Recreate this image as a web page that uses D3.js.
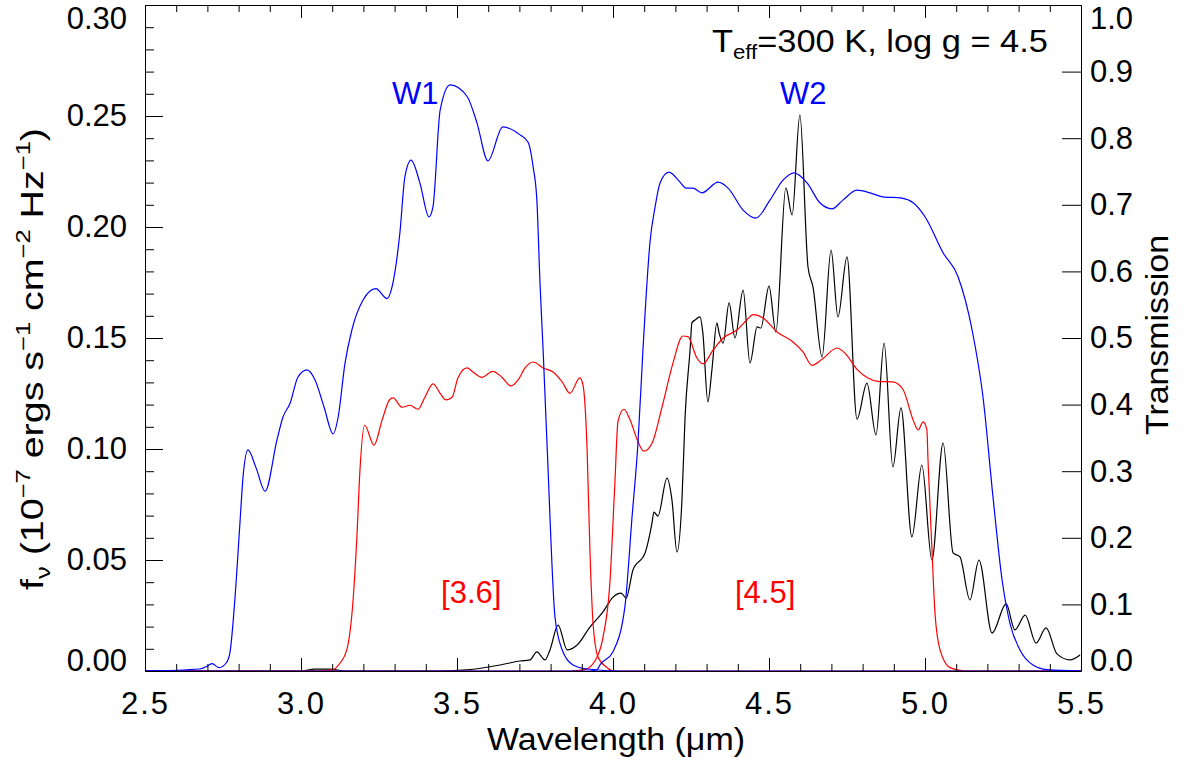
<!DOCTYPE html>
<html>
<head>
<meta charset="utf-8">
<script src="https://cdn.jsdelivr.net/npm/d3@7"></script>
<style>
  html, body { margin: 0; padding: 0; background: #fff; }
  svg { display: block; }
  text { font-family: "Liberation Sans", Arial, Helvetica, sans-serif; }
</style>
</head>
<body>
<svg id="chart" width="1184" height="765"></svg>
<script>
// ---------------- DATA ----------------
// WISE W1 transmission (right axis)
const w1Wave  = [2.50, 2.676, 2.702, 2.715, 2.737, 2.760, 2.772, 2.788, 2.804, 2.814, 2.830, 2.856, 2.885, 2.923, 2.942, 2.965, 2.990, 3.019, 3.045, 3.074, 3.103, 3.119, 3.141, 3.163, 3.199, 3.240, 3.276, 3.292, 3.317, 3.333, 3.353, 3.381, 3.410, 3.423, 3.446, 3.478, 3.532, 3.564, 3.599, 3.647, 3.702, 3.728, 3.744, 3.756, 3.766, 3.776, 3.792, 3.798, 3.814, 3.837, 3.872, 3.917, 4.022, 5.50];
const w1Trans = [0.000, 0.003, 0.008, 0.011, 0.005, 0.012, 0.027, 0.107, 0.220, 0.290, 0.332, 0.305, 0.270, 0.347, 0.381, 0.402, 0.441, 0.452, 0.437, 0.396, 0.356, 0.381, 0.462, 0.512, 0.557, 0.574, 0.559, 0.577, 0.658, 0.742, 0.767, 0.733, 0.682, 0.697, 0.842, 0.880, 0.863, 0.823, 0.766, 0.817, 0.805, 0.794, 0.757, 0.707, 0.583, 0.482, 0.302, 0.231, 0.081, 0.032, 0.009, 0.003, 0.000, 0.000];

// WISE W2 transmission (right axis)
const w2Wave  = [2.50, 3.926, 3.949, 3.958, 4.000, 4.038, 4.061, 4.080, 4.096, 4.119, 4.135, 4.151, 4.179, 4.215, 4.234, 4.256, 4.285, 4.337, 4.369, 4.417, 4.458, 4.503, 4.545, 4.580, 4.622, 4.663, 4.702, 4.737, 4.782, 4.824, 4.865, 4.926, 4.962, 5.000, 5.058, 5.106, 5.151, 5.186, 5.218, 5.247, 5.272, 5.304, 5.346, 5.391, 5.50];
const w2Trans = [0.000, 0.000, 0.002, 0.009, 0.029, 0.096, 0.231, 0.342, 0.482, 0.646, 0.697, 0.733, 0.749, 0.734, 0.725, 0.725, 0.718, 0.734, 0.725, 0.692, 0.680, 0.707, 0.737, 0.748, 0.733, 0.703, 0.694, 0.707, 0.722, 0.718, 0.712, 0.710, 0.703, 0.682, 0.628, 0.592, 0.512, 0.411, 0.261, 0.137, 0.072, 0.032, 0.009, 0.002, 0.000];

// IRAC [3.6] transmission (right axis)
const i1Wave  = [2.50, 3.061, 3.103, 3.125, 3.147, 3.167, 3.179, 3.189, 3.204, 3.234, 3.260, 3.285, 3.295, 3.324, 3.349, 3.375, 3.397, 3.423, 3.446, 3.465, 3.484, 3.503, 3.532, 3.551, 3.580, 3.615, 3.644, 3.673, 3.696, 3.718, 3.744, 3.776, 3.808, 3.837, 3.862, 3.894, 3.904, 3.917, 3.926, 3.936, 3.952, 3.981, 4.006, 5.50];
const i1Trans = [0.000, 0.000, 0.002, 0.012, 0.032, 0.107, 0.200, 0.302, 0.369, 0.339, 0.377, 0.408, 0.410, 0.396, 0.399, 0.393, 0.411, 0.431, 0.417, 0.407, 0.411, 0.440, 0.455, 0.449, 0.441, 0.450, 0.441, 0.428, 0.437, 0.455, 0.464, 0.455, 0.449, 0.434, 0.417, 0.440, 0.429, 0.332, 0.182, 0.072, 0.021, 0.005, 0.000, 0.000];

// IRAC [4.5] transmission (right axis)
const i2Wave  = [2.50, 3.862, 3.910, 3.949, 3.968, 3.990, 4.006, 4.016, 4.035, 4.054, 4.077, 4.099, 4.125, 4.157, 4.192, 4.224, 4.240, 4.269, 4.288, 4.321, 4.353, 4.397, 4.429, 4.449, 4.481, 4.526, 4.577, 4.609, 4.638, 4.670, 4.718, 4.744, 4.782, 4.817, 4.849, 4.897, 4.929, 4.962, 4.978, 4.994, 5.006, 5.010, 5.022, 5.032, 5.048, 5.080, 5.128, 5.50];
const i2Trans = [0.000, 0.000, 0.002, 0.021, 0.051, 0.132, 0.282, 0.375, 0.393, 0.378, 0.348, 0.330, 0.342, 0.396, 0.462, 0.503, 0.502, 0.470, 0.461, 0.482, 0.500, 0.512, 0.527, 0.535, 0.530, 0.509, 0.494, 0.479, 0.459, 0.468, 0.485, 0.477, 0.453, 0.440, 0.435, 0.434, 0.423, 0.377, 0.362, 0.374, 0.362, 0.312, 0.186, 0.087, 0.032, 0.005, 0.000, 0.000];

// Model spectrum f_nu (left axis, 1e-7 ergs s^-1 cm^-2 Hz^-1)
const specWave = [2.50, 2.997, 3.045, 3.093, 3.141, 3.446, 3.532, 3.638, 3.702, 3.734, 3.756, 3.782, 3.798, 3.824, 3.853, 3.885, 3.926, 3.968, 4.000, 4.026, 4.042, 4.064, 4.103, 4.125, 4.131, 4.144, 4.173, 4.189, 4.205, 4.221, 4.231, 4.247, 4.253, 4.263, 4.279, 4.288, 4.304, 4.317, 4.333, 4.340, 4.353, 4.372, 4.391, 4.417, 4.439, 4.462, 4.474, 4.500, 4.522, 4.554, 4.574, 4.599, 4.625, 4.641, 4.670, 4.699, 4.721, 4.750, 4.782, 4.814, 4.843, 4.869, 4.897, 4.923, 4.958, 4.990, 5.022, 5.058, 5.090, 5.112, 5.144, 5.173, 5.215, 5.260, 5.288, 5.321, 5.356, 5.388, 5.423, 5.465, 5.497];
const specFlux = [0.0000, 0.0000, 0.0008, 0.0008, 0.0000, 0.0000, 0.0005, 0.0027, 0.0045, 0.0050, 0.0086, 0.0050, 0.0095, 0.0207, 0.0095, 0.0117, 0.0198, 0.0266, 0.0333, 0.0351, 0.0329, 0.0455, 0.0532, 0.0667, 0.0716, 0.0698, 0.0869, 0.0770, 0.0536, 0.0770, 0.1144, 0.1446, 0.1568, 0.1581, 0.1595, 0.1523, 0.1212, 0.1356, 0.1568, 0.1523, 0.1477, 0.1658, 0.1500, 0.1716, 0.1387, 0.1550, 0.1545, 0.1734, 0.1527, 0.2176, 0.2054, 0.2505, 0.1820, 0.1730, 0.1414, 0.1896, 0.1595, 0.1865, 0.1135, 0.1297, 0.1063, 0.1477, 0.0919, 0.1185, 0.0604, 0.0928, 0.0500, 0.1027, 0.0532, 0.0514, 0.0320, 0.0500, 0.0171, 0.0302, 0.0185, 0.0252, 0.0126, 0.0194, 0.0077, 0.0050, 0.0072];

// Axis ticks
const xMajor = [2.5, 3.0, 3.5, 4.0, 4.5, 5.0, 5.5];
const xMinor = d3.range(2.6, 5.45, 0.1).map(v => +v.toFixed(2)).filter(v => !xMajor.includes(v));
const yLeftMajor = [0.00, 0.05, 0.10, 0.15, 0.20, 0.25, 0.30];
const yLeftMinor = d3.range(0.01, 0.295, 0.01).map(v => +v.toFixed(2)).filter(v => Math.abs(v * 20 - Math.round(v * 20)) > 1e-6);
const yRightMajor = [0.0, 0.1, 0.2, 0.3, 0.4, 0.5, 0.6, 0.7, 0.8, 0.9, 1.0];

// Labels
const bandLabels = [
  { text: "W1",    wave: 3.292, trans: 0.851, color: "#0000ff" },
  { text: "W2",    wave: 4.535, trans: 0.851, color: "#0000ff" },
  { text: "[3.6]", wave: 3.449, trans: 0.102, color: "#ff0000" },
  { text: "[4.5]", wave: 4.391, trans: 0.102, color: "#ff0000" }
];

// ---------------- CHART ----------------
const L = 145, R = 1081, T = 5, B = 671;
const FS = 31;
const svg = d3.select("#chart");

const x = d3.scaleLinear().domain([2.5, 5.5]).range([L, R]);
const yL = d3.scaleLinear().domain([0, 0.30]).range([B, T]);
const yR = d3.scaleLinear().domain([0, 1.0]).range([B, T]);

function zip(a, b) { return a.map((v, i) => [v, b[i]]); }

const lineT = d3.line().x(d => x(d[0])).y(d => yR(d[1])).curve(d3.curveMonotoneX);
const lineF = d3.line().x(d => x(d[0])).y(d => yL(d[1])).curve(d3.curveMonotoneX);

const gLines = svg.append("g");
gLines.append("path").attr("d", lineF(zip(specWave, specFlux)))
  .attr("fill", "none").attr("stroke", "#000").attr("stroke-width", 1.2);
gLines.append("path").attr("d", lineT(zip(i1Wave, i1Trans)))
  .attr("fill", "none").attr("stroke", "#ff0000").attr("stroke-width", 1.2);
gLines.append("path").attr("d", lineT(zip(i2Wave, i2Trans)))
  .attr("fill", "none").attr("stroke", "#ff0000").attr("stroke-width", 1.2);
gLines.append("path").attr("d", lineT(zip(w1Wave, w1Trans)))
  .attr("fill", "none").attr("stroke", "#0000ff").attr("stroke-width", 1.2);
gLines.append("path").attr("d", lineT(zip(w2Wave, w2Trans)))
  .attr("fill", "none").attr("stroke", "#0000ff").attr("stroke-width", 1.2);

// Axes
function styleAxis(g) {
  g.selectAll("path.domain").attr("stroke", "#000").attr("stroke-width", 1);
  g.selectAll(".tick line").attr("stroke", "#000").attr("stroke-width", 1);
  g.selectAll("text").attr("fill", "#000").attr("font-size", FS)
    .attr("font-family", "'Liberation Sans', Arial, sans-serif");
}

// bottom major
const gxB = svg.append("g").attr("transform", `translate(0,${B})`)
  .call(d3.axisBottom(x).tickValues(xMajor).tickSizeInner(-13).tickSizeOuter(0).tickPadding(21).tickFormat(d3.format(".1f")));
styleAxis(gxB);
gxB.selectAll("text").attr("letter-spacing", "2px");
svg.append("g").attr("transform", `translate(0,${B})`)
  .call(d3.axisBottom(x).tickValues(xMinor).tickSizeInner(-7).tickSizeOuter(0).tickFormat(""))
  .call(styleAxis);
// top
svg.append("g").attr("transform", `translate(0,${T})`)
  .call(d3.axisTop(x).tickValues(xMajor).tickSizeInner(-13).tickSizeOuter(0).tickFormat(""))
  .call(styleAxis);
svg.append("g").attr("transform", `translate(0,${T})`)
  .call(d3.axisTop(x).tickValues(xMinor).tickSizeInner(-7).tickSizeOuter(0).tickFormat(""))
  .call(styleAxis);
// left
const gyL = svg.append("g").attr("transform", `translate(${L},0)`)
  .call(d3.axisLeft(yL).tickValues(yLeftMajor).tickSizeInner(-18).tickSizeOuter(0).tickPadding(18).tickFormat(d3.format(".2f")));
styleAxis(gyL);
svg.append("g").attr("transform", `translate(${L},0)`)
  .call(d3.axisLeft(yL).tickValues(yLeftMinor).tickSizeInner(-9).tickSizeOuter(0).tickFormat(""))
  .call(styleAxis);
// right
const gyR = svg.append("g").attr("transform", `translate(${R},0)`)
  .call(d3.axisRight(yR).tickValues(yRightMajor).tickSizeInner(-19).tickSizeOuter(0).tickPadding(9).tickFormat(d3.format(".1f")));
styleAxis(gyR);

// shift end labels inside like the reference
[gyL, gyR].forEach(g => {
  g.selectAll(".tick text").each(function(d) {
    const t = d3.select(this);
    if (Math.abs(d - (g === gyL ? 0.30 : 1.0)) < 1e-9) t.attr("y", 0).attr("dy", "0.71em").attr("transform", "translate(0,1)");
    if (Math.abs(d) < 1e-9) t.attr("y", 0).attr("dy", "0em").attr("transform", "translate(0,-1)");
  });
});

// Axis titles
svg.append("text")
  .attr("x", (L + R) / 2 + 3).attr("y", 750)
  .attr("text-anchor", "middle").attr("font-size", FS)
  .attr("textLength", 258).attr("lengthAdjust", "spacingAndGlyphs")
  .text("Wavelength (\u03bcm)");

const yt = svg.append("text")
  .attr("transform", `translate(43,590) rotate(-90)`)
  .attr("font-size", FS)
  .attr("textLength", 462).attr("lengthAdjust", "spacingAndGlyphs");
yt.append("tspan").text("f");
yt.append("tspan").attr("font-size", 20).attr("dy", 7).text("\u03bd");
yt.append("tspan").attr("dy", -7).text(" (10");
yt.append("tspan").attr("font-size", 20).attr("dy", -13).text("\u22127");
yt.append("tspan").attr("dy", 13).text(" ergs s");
yt.append("tspan").attr("font-size", 20).attr("dy", -13).text("\u22121");
yt.append("tspan").attr("dy", 13).text(" cm");
yt.append("tspan").attr("font-size", 20).attr("dy", -13).text("\u22122");
yt.append("tspan").attr("dy", 13).text(" Hz");
yt.append("tspan").attr("font-size", 20).attr("dy", -13).text("\u22121");
yt.append("tspan").attr("dy", 13).text(")");

svg.append("text")
  .attr("transform", `translate(1168,335) rotate(-90)`)
  .attr("text-anchor", "middle").attr("font-size", FS)
  .attr("textLength", 200).attr("lengthAdjust", "spacingAndGlyphs")
  .text("Transmission");

// Title annotation
const tt = svg.append("text")
  .attr("x", x(4.317)).attr("y", yR(0.929))
  .attr("font-size", FS)
  .attr("textLength", 336).attr("lengthAdjust", "spacingAndGlyphs");
tt.append("tspan").text("T");
tt.append("tspan").attr("font-size", 20).attr("dy", 7).text("eff");
tt.append("tspan").attr("dy", -7).text("=300 K, log g = 4.5");

// Band labels
svg.append("g").selectAll("text").data(bandLabels).join("text")
  .attr("x", d => x(d.wave)).attr("y", d => yR(d.trans))
  .attr("font-size", FS).attr("fill", d => d.color)
  .text(d => d.text);
</script>
</body>
</html>
